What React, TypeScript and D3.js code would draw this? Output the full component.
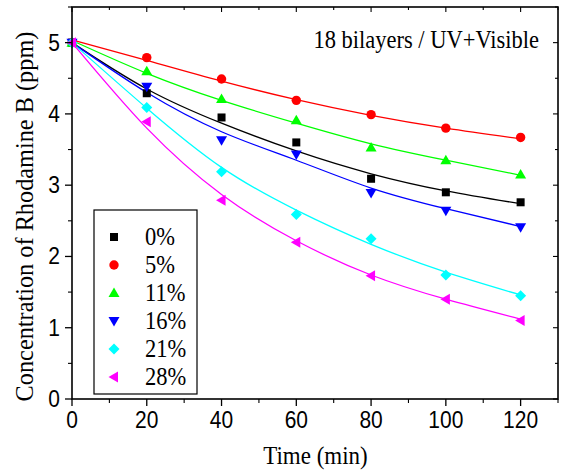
import React from "react";
import * as d3 from "d3";

const times = [0, 20, 40, 60, 80, 100, 120];
const seriesNames = ["0%", "5%", "11%", "16%", "21%", "28%"];
const seriesColors = ["#000000", "#ff0000", "#00ff00", "#0000ff", "#00ffff", "#ff00ff"];
const seriesSymbols = ["square", "circle", "triangleUp", "triangleDown", "diamond", "triangleLeft"];

const values0 = [5, 4.29, 3.95, 3.6, 3.09, 2.9, 2.76];
const values5 = [5, 4.79, 4.49, 4.19, 3.99, 3.8, 3.67];
const values11 = [5, 4.6, 4.21, 3.91, 3.53, 3.35, 3.15];
const values16 = [5, 4.38, 3.63, 3.43, 2.89, 2.64, 2.41];
const values21 = [5, 4.09, 3.19, 2.59, 2.25, 1.74, 1.45];
const values28 = [5, 3.89, 2.79, 2.2, 1.73, 1.4, 1.1];

const fit0 = [5.0, 4.35, 3.87, 3.48, 3.16, 2.92, 2.74];
const fit5 = [5.04, 4.75, 4.46, 4.2, 3.98, 3.8, 3.65];
const fit11 = [5.03, 4.57, 4.19, 3.87, 3.58, 3.35, 3.14];
const fit16 = [5.0, 4.3, 3.75, 3.35, 2.96, 2.67, 2.42];
const fit21 = [5.0, 4.08, 3.25, 2.65, 2.17, 1.78, 1.46];
const fit28 = [5.0, 3.8, 2.87, 2.22, 1.74, 1.4, 1.12];

const allValues = [values0, values5, values11, values16, values21, values28];
const allFits = [fit0, fit5, fit11, fit16, fit21, fit28];

const xMajorTicks = [0, 20, 40, 60, 80, 100, 120];
const xMinorTicks = [10, 30, 50, 70, 90, 110, 130];
const yMajorTicks = [0, 1, 2, 3, 4, 5];
const yMinorTicks = [0.5, 1.5, 2.5, 3.5, 4.5, 5.5];

const title = "18 bilayers / UV+Visible";
const xLabel = "Time (min)";
const yLabel = "Concentration of Rhodamine B (ppm)";

const L = 72, R = 558, T = 7, B = 399;

function Marker({ kind, x, y, color }: { kind: string; x: number; y: number; color: string }) {
  if (kind === "square") return <rect x={x - 4} y={y - 4} width={8} height={8} fill={color} />;
  if (kind === "circle") return <circle cx={x} cy={y} r={4.7} fill={color} />;
  let pts: number[][] = [];
  if (kind === "triangleUp") pts = [[x, y - 5.5], [x + 5.5, y + 4], [x - 5.5, y + 4]];
  if (kind === "triangleDown") pts = [[x, y + 5.5], [x + 5.5, y - 4], [x - 5.5, y - 4]];
  if (kind === "triangleLeft") pts = [[x - 5.5, y], [x + 4, y - 5.5], [x + 4, y + 5.5]];
  if (kind === "diamond") pts = [[x, y - 5.5], [x + 5.5, y], [x, y + 5.5], [x - 5.5, y]];
  return <polygon points={pts.map((p) => p.join(",")).join(" ")} fill={color} />;
}

export default function App() {
  const x = d3.scaleLinear().domain([0, 130]).range([L, R]);
  const y = d3.scaleLinear().domain([0, 5.5]).range([B, T]);
  const line = d3
    .line<number>()
    .x((_, i) => x(times[i]))
    .y((d) => y(d))
    .curve(d3.curveNatural);

  const serif = { fontFamily: "'Liberation Serif', 'Times New Roman', serif" };
  const sans = { fontFamily: "'Liberation Sans', Arial, sans-serif" };

  return (
    <svg
      width={561}
      height={475}
      style={{ position: "absolute", left: 0, top: 0, background: "#fff" }}
    >
      <rect x={0} y={0} width={561} height={475} fill="#fff" />
      {allFits.map((f, i) => (
        <path key={"f" + i} d={line(f) || ""} fill="none" stroke={seriesColors[i]} strokeWidth={1.3} />
      ))}
      {allValues.map((vals, si) =>
        vals.map((v, i) => (
          <Marker key={si + "-" + i} kind={seriesSymbols[si]} x={x(times[i])} y={y(v)} color={seriesColors[si]} />
        ))
      )}
      <rect x={L} y={T} width={R - L} height={B - T} fill="none" stroke="#000" strokeWidth={1.6} />
      {xMajorTicks.map((t) => (
        <g key={"xm" + t}>
          <line x1={x(t)} x2={x(t)} y1={B} y2={B + 7} stroke="#000" strokeWidth={1.3} />
          <line x1={x(t)} x2={x(t)} y1={T} y2={T + 5} stroke="#000" strokeWidth={1.1} />
          <text
            transform={`translate(${x(t)},${428}) scale(1,1.1)`}
            textAnchor="middle"
            style={sans}
            fontSize={21}
          >
            {t}
          </text>
        </g>
      ))}
      {xMinorTicks.map((t) => (
        <g key={"xn" + t}>
          <line x1={x(t)} x2={x(t)} y1={B} y2={B + 4} stroke="#000" strokeWidth={1.1} />
          <line x1={x(t)} x2={x(t)} y1={T} y2={T + 3} stroke="#000" strokeWidth={1.1} />
        </g>
      ))}
      {yMajorTicks.map((t) => (
        <g key={"ym" + t}>
          <line x1={L - 7} x2={L} y1={y(t)} y2={y(t)} stroke="#000" strokeWidth={1.3} />
          <line x1={R - 5} x2={R} y1={y(t)} y2={y(t)} stroke="#000" strokeWidth={1.1} />
          <text
            transform={`translate(${60},${y(t) + 8}) scale(1,1.1)`}
            textAnchor="end"
            style={sans}
            fontSize={21}
          >
            {t}
          </text>
        </g>
      ))}
      {yMinorTicks.map((t) => (
        <g key={"yn" + t}>
          <line x1={L - 4} x2={L} y1={y(t)} y2={y(t)} stroke="#000" strokeWidth={1.1} />
          <line x1={R - 3} x2={R} y1={y(t)} y2={y(t)} stroke="#000" strokeWidth={1.1} />
        </g>
      ))}
      <text
        transform={`translate(${315.5},${464}) scale(1,1.12)`}
        textAnchor="middle"
        style={serif}
        fontSize={23}
      >
        {xLabel}
      </text>
      <text
        transform={`translate(${33},${216.5}) rotate(-90)`}
        textAnchor="middle"
        style={serif}
        fontSize={24.3}
      >
        {yLabel}
      </text>
      <text
        transform={`translate(${539},${48}) scale(1,1.1)`}
        textAnchor="end"
        style={serif}
        fontSize={22.5}
      >
        {title}
      </text>
      <rect x={94} y={210} width={103} height={184} fill="#fff" stroke="#000" strokeWidth={1.2} />
      {seriesNames.map((n, i) => {
        const cy = 237 + i * 28;
        return (
          <g key={"lg" + i}>
            <Marker kind={seriesSymbols[i]} x={114} y={cy} color={seriesColors[i]} />
            <text
              transform={`translate(${145},${cy + 8}) scale(1,1.1)`}
              style={serif}
              fontSize={22.5}
            >
              {n}
            </text>
          </g>
        );
      })}
    </svg>
  );
}
